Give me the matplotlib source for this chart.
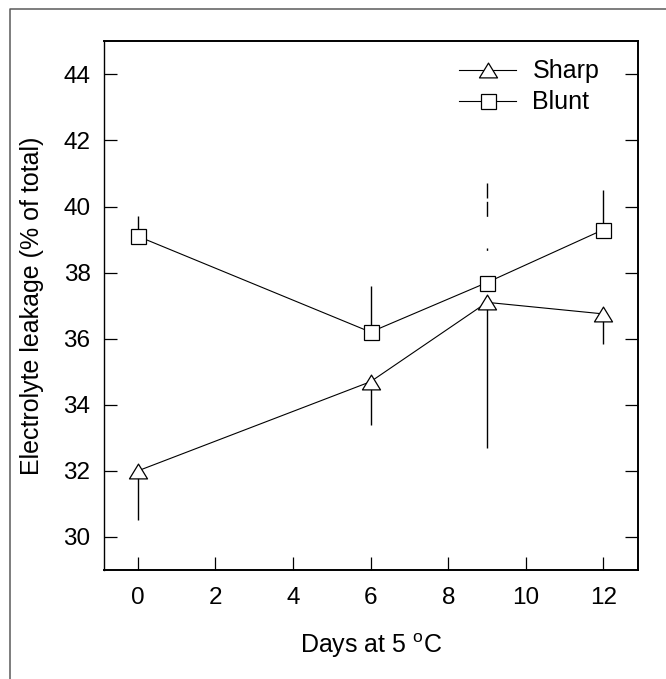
import matplotlib
matplotlib.use("Agg")
import matplotlib.pyplot as plt
from matplotlib.lines import Line2D
from matplotlib.path import Path
import numpy as np

plt.rcParams['font.family'] = ['Liberation Sans', 'DejaVu Sans']
plt.rcParams['mathtext.fontset'] = 'custom'
plt.rcParams['mathtext.rm'] = 'Liberation Sans'
plt.rcParams['lines.scale_dashes'] = False

# ---- data ----
days = [0, 6, 9, 12]
sharp_mean = [32.0, 34.7, 37.1, 36.75]
sharp_err_down = [1.5, 1.3, 4.4, 0.9]
blunt_mean = [39.1, 36.2, 37.7, 39.3]
blunt_err_up = [0.6, 1.4, 3.0, 1.2]
xticks = [0, 2, 4, 6, 8, 10, 12]
yticks = [30, 32, 34, 36, 38, 40, 42, 44]
labels = ["Sharp", "Blunt"]

fig = plt.figure(figsize=(6.66, 6.79), dpi=100)
ax = fig.add_axes([0.1557, 0.1605, 0.9584 - 0.1557, 0.9392 - 0.1605])

tri = Path([(0, 1), (-1.22, -1), (1.22, -1), (0, 1)], closed=True)

# error bars (one sided)
eb1 = ax.errorbar(days, sharp_mean, yerr=[sharp_err_down, np.zeros(len(days))],
                  fmt='none', ecolor='black', elinewidth=1.0, capsize=0, zorder=2)
eb2 = ax.errorbar(days, blunt_mean, yerr=[np.zeros(len(days)), blunt_err_up],
                  fmt='none', ecolor='black', elinewidth=1.0, capsize=0, zorder=2)
# broken-looking bar at day 9 (blunt), as in the original rendering
eb2[2][0].set_linestyles(['-', '-', (0, (0.01, 23.5, 1.7, 22.8, 10.8, 2.4, 10.8, 60)), '-'])

l1, = ax.plot(days, sharp_mean, '-', color='black', lw=0.8, marker=tri, ms=13,
              mfc='white', mec='black', mew=0.9, zorder=3, label=labels[0])
l2, = ax.plot(days, blunt_mean, '-', color='black', lw=0.8, marker='s', ms=10.8,
              mfc='white', mec='black', mew=0.9, zorder=3, label=labels[1])

ax.set_xlim(-0.88, 12.9)
ax.set_ylim(29, 45)
ax.set_xticks(xticks)
ax.set_yticks(yticks)
ax.tick_params(axis='both', direction='in', length=9.4, width=0.9, labelsize=17.5)
ax.tick_params(axis='y', right=True, pad=9.5)
ax.tick_params(axis='x', top=False, pad=12.5)

for s in ['top', 'right', 'bottom']:
    ax.spines[s].set_linewidth(1.4)
ax.spines['left'].set_linewidth(1.0)

ax.set_xlabel('Days at 5 $^{\\mathregular{o}}$C', fontsize=18, labelpad=16)
ax.set_ylabel('Electrolyte leakage (% of total)', fontsize=18, labelpad=14)

ax.legend(handles=[l1, l2], loc='upper left', bbox_to_anchor=(0.6646, 0.966),
          frameon=False, fontsize=18, numpoints=1, handlelength=2.3,
          handletextpad=0.64, labelspacing=0.28, borderpad=0, borderaxespad=0)

# partial figure frame (left and top)
fx = 9.7 / 666
fy = 1 - 8.7 / 679
fig.add_artist(Line2D([fx, fx, 1.0], [0.0, fy, fy], transform=fig.transFigure,
                      color='#5a5a5a', lw=1.1))

fig.savefig('out.png', dpi=100)
